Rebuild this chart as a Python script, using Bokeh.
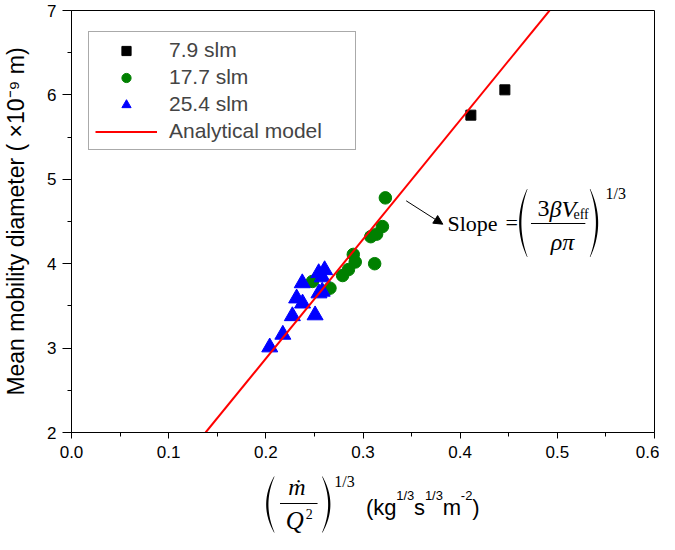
from bokeh.plotting import figure
from bokeh.layouts import column
from bokeh.models import (Label, Legend, LegendItem, Arrow, NormalHead, PolyAnnotation,
                          FixedTicker, PrintfTickFormatter, Range1d)
from bokeh.embed import file_html
from bokeh.resources import INLINE

# ---------------- data ----------------
sq_x = [0.411, 0.446]              # 7.9 slm
sq_y = [5.76, 6.06]

ci_x = [0.248, 0.266, 0.279, 0.285, 0.290, 0.292, 0.308, 0.312, 0.314, 0.320, 0.323]   # 17.7 slm
ci_y = [3.79, 3.71, 3.86, 3.93, 4.11, 4.02, 4.32, 4.00, 4.35, 4.44, 4.78]

tr_x = [0.204, 0.2175, 0.2273, 0.2507, 0.2317, 0.2378, 0.2375, 0.2547, 0.2580, 0.2544, 0.2605, 0.2580]  # 25.4 slm
tr_y = [3.01, 3.16, 3.38, 3.39, 3.59, 3.53, 3.77, 3.65, 3.67, 3.89, 3.925, 3.84]

model_x = [0.138, 0.492]           # analytical model line
model_y = [2.0, 7.0]

x_ticks = [0.0, 0.1, 0.2, 0.3, 0.4, 0.5, 0.6]
x_minor = [0.05, 0.15, 0.25, 0.35, 0.45, 0.55]
y_ticks = [2, 3, 4, 5, 6, 7]
y_minor = [2.5, 3.5, 4.5, 5.5, 6.5]

series_labels = ["7.9 slm", "17.7 slm", "25.4 slm", "Analytical model"]
y_label = "Mean mobility diameter ( \u00d710\u207b\u2079 m)"

# ---------------- layout constants (page pixels) ----------------
FIG_W = 659
P_H, P2_H = 474, 60
BL, BR, BT, BB = 64, 5, 10, 42
FRAME_L, FRAME_B = 8 + BL, 8 + P_H - BB        # 72, 440 in page pixels
FRAME_W = FIG_W - BL - BR                       # 590
FRAME_H = P_H - BT - BB                         # 422

# ---------------- main figure ----------------
p = figure(width=FIG_W, height=P_H, x_range=Range1d(0, 0.6), y_range=Range1d(2, 7),
           output_backend="svg", toolbar_location=None,
           min_border_left=BL, min_border_right=BR, min_border_top=BT, min_border_bottom=BB)
p.xgrid.visible = False
p.ygrid.visible = False
p.outline_line_color = "black"
p.outline_line_alpha = 1.0
p.outline_line_width = 1
p.background_fill_color = "white"
p.border_fill_color = "white"

for ax in (p.xaxis[0], p.yaxis[0]):
    ax.axis_line_color = "black"
    ax.axis_line_width = 1
    ax.major_tick_line_color = "black"
    ax.minor_tick_line_color = "black"
    ax.major_tick_in = 0
    ax.minor_tick_in = 0
    ax.major_label_text_font = "Liberation Sans"
    ax.major_label_text_font_size = "17px"
    ax.major_label_text_color = "black"
    ax.axis_label_text_font = "Liberation Sans"
    ax.axis_label_text_font_style = "normal"
    ax.axis_label_text_color = "black"

p.xaxis.ticker = FixedTicker(ticks=x_ticks, minor_ticks=x_minor)
p.xaxis.formatter = PrintfTickFormatter(format="%.1f")
p.xaxis.major_tick_out = 6
p.xaxis.minor_tick_out = 4
p.xaxis.major_label_standoff = 7

p.yaxis.ticker = FixedTicker(ticks=y_ticks, minor_ticks=y_minor)
p.yaxis.major_tick_out = 9
p.yaxis.minor_tick_out = 4
p.yaxis.major_label_standoff = 6
p.yaxis.axis_label = y_label
p.yaxis.axis_label_text_font_size = "23px"
p.yaxis.axis_label_standoff = 15

# ---------------- marks ----------------
r_sq = p.scatter(sq_x, sq_y, marker="square", size=10, color="black")
r_ci = p.scatter(ci_x, ci_y, marker="circle", size=12.5, color="#008000")
r_tr = p.scatter(tr_x, tr_y, marker="triangle", size=16, color="#0000ff")
r_ln = p.line(model_x, model_y, color="#ff0000", line_width=2)

legend = Legend(items=[LegendItem(label=series_labels[0], renderers=[r_sq]),
                       LegendItem(label=series_labels[1], renderers=[r_ci]),
                       LegendItem(label=series_labels[2], renderers=[r_tr]),
                       LegendItem(label=series_labels[3], renderers=[r_ln])],
                location=(17, 282), padding=6, spacing=3, margin=0,
                glyph_width=62, glyph_height=23, label_height=23,
                label_standoff=12, label_width=180,
                label_text_font="Liberation Sans", label_text_font_size="21px",
                border_line_color="#555555", border_line_width=1,
                background_fill_color="white", background_fill_alpha=1)
p.add_layout(legend)


# ---------------- helpers ----------------
def paren_outline(x_tip, cy, H, W, thick, direction):
    """Thin crescent outline of a tall parenthesis, in page pixels."""
    n = 31
    xo, yo, xi = [], [], []
    for i in range(n):
        s = -1 + 2 * i / (n - 1)
        f = 1 - s * s
        yo.append(cy + s * H / 2)
        xo.append(x_tip + direction * W * f)
        xi.append(x_tip + direction * (W * f - thick * f - 0.5))
    return xo + xi[::-1], yo + yo[::-1]


def rect_outline(x0, x1, y, t):
    return [x0, x1, x1, x0], [y - t / 2, y - t / 2, y + t / 2, y + t / 2]


# main-figure annotations: page pixels -> frame screen units / data units
def lab(text, ix, iy, size, font="Liberation Serif", style="normal", align="left"):
    p.add_layout(Label(x=ix - FRAME_L, y=FRAME_B - iy, x_units="screen", y_units="screen", text=text,
                       text_font=font, text_font_size=f"{size}px", text_font_style=style,
                       text_align=align, text_baseline="middle", text_color="black"))


def poly_main(pts):
    xs = [(x - FRAME_L) * 0.6 / FRAME_W for x in pts[0]]
    ys = [2 + (FRAME_B - y) * 5 / FRAME_H for y in pts[1]]
    p.add_layout(PolyAnnotation(xs=xs, ys=ys, fill_color="black", fill_alpha=1, line_color=None))


# slope annotation
lab("Slope", 448, 231, 22)
lab("=", 506, 230, 22)
poly_main(paren_outline(533, 230.5, 68, 8, 1.8, -1))
lab("3", 538, 216, 24)
lab("\u03b2", 550, 216, 24, style="italic")
lab("V", 562, 216, 24, style="italic")
lab("eff", 574, 222, 14)
poly_main(rect_outline(537, 592, 231, 1.1))
lab("\u03c1\u03c0", 563, 249, 24, style="italic", align="center")
poly_main(paren_outline(597, 230.5, 68, 8, 1.8, 1))
lab("1/3", 606, 201, 16)

p.add_layout(Arrow(x_start=406.7 - FRAME_L, y_start=FRAME_B - 208.3,
                   x_end=443.3 - FRAME_L, y_end=FRAME_B - 231.7,
                   start_units="screen", end_units="screen", line_color="black", line_width=1,
                   end=NormalHead(size=9, fill_color="black", line_color="black")))

# ---------------- x-axis title strip (its frame is aligned with the main frame; data units = page pixels) ----------------
P2_TOP = 8 + P_H          # 482
p2 = figure(width=FIG_W, height=P2_H,
            x_range=Range1d(FRAME_L, FRAME_L + FRAME_W), y_range=Range1d(0, P2_H),
            output_backend="svg", toolbar_location=None,
            min_border_left=BL, min_border_right=BR, min_border_top=0, min_border_bottom=0,
            x_axis_type=None, y_axis_type=None)
p2.xgrid.visible = False
p2.ygrid.visible = False
p2.outline_line_color = None
p2.background_fill_color = "white"
p2.border_fill_color = "white"


def lab2(text, ix, iy, size, font="Liberation Serif", style="normal", align="left"):
    p2.add_layout(Label(x=ix, y=P2_TOP + P2_H - iy, text=text,
                        text_font=font, text_font_size=f"{size}px", text_font_style=style,
                        text_align=align, text_baseline="middle", text_color="black"))


def poly2(pts):
    ys = [P2_TOP + P2_H - y for y in pts[1]]
    p2.add_layout(PolyAnnotation(xs=list(pts[0]), ys=ys, fill_color="black", fill_alpha=1, line_color=None))


poly2(paren_outline(277, 512, 56, 8, 1.8, -1))
lab2("\u1e41", 300, 494, 24, style="italic", align="center")
poly2(rect_outline(283, 321, 511, 1.1))
lab2("Q", 298, 528, 25, style="italic", align="center")
lab2("2", 309, 521, 14)
poly2(paren_outline(326, 512, 56, 8, 1.8, 1))
lab2("1/3", 338, 489, 16)

# units: pieces laid side by side using Arial/Liberation Sans advance widths
unit_pieces = [("(kg", 22, 515, 1.389), ("1/3", 13, 503, 1.390), ("s", 22, 515, 0.500),
               ("1/3", 13, 503, 1.390), ("m", 22, 515, 0.833), ("-2", 13, 503, 0.889),
               (")", 22, 515, 0.333)]
ux = 370
for txt, sz, yy, em in unit_pieces:
    lab2(txt, ux, yy, sz, font="Liberation Sans")
    ux += em * sz

layout = column(p, p2, spacing=0)
open("out.html", "w").write(file_html(layout, INLINE))
